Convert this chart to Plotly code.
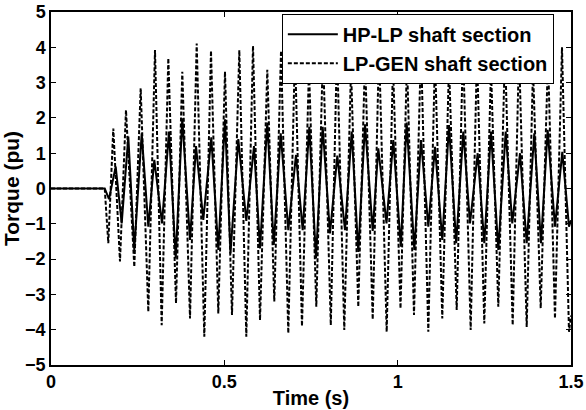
import plotly.graph_objects as go

# HP-LP shaft section: extrema (time s, torque pu)
hp_t = [0.0, 0.155, 0.1673, 0.1866, 0.2039, 0.223, 0.2403, 0.2616, 0.2807, 0.298,
        0.3202, 0.3404, 0.3597, 0.3787, 0.401, 0.4183, 0.4393, 0.4624, 0.4826, 0.5019,
        0.5178, 0.5403, 0.5634, 0.5856, 0.6029, 0.6239, 0.6427, 0.6626, 0.6845, 0.7067,
        0.726, 0.7451, 0.7644, 0.7837, 0.8048, 0.8259, 0.8481, 0.8674, 0.8864, 0.9058,
        0.928, 0.9441, 0.9678, 0.9874, 1.009, 1.026, 1.048, 1.0673, 1.0884, 1.1077,
        1.1287, 1.1481, 1.1688, 1.1893, 1.2087, 1.2308, 1.2499, 1.2692, 1.2903, 1.3116,
        1.3306, 1.3529, 1.3722, 1.3941, 1.4134, 1.4327, 1.4538, 1.4749, 1.4942, 1.5]
hp_v = [0.0, 0.0, -0.3, 0.62, -0.99, 1.47, -1.74, 1.56, -1.08, 0.81,
        -0.99, 1.61, -1.98, 1.99, -1.46, 1.2, -0.89, 1.45, -1.74, 1.96,
        -1.84, 1.4, -0.92, 1.2, -1.7, 1.87, -1.6, 1.56, -1.18, 0.95,
        -1.18, 1.75, -1.98, 1.75, -1.27, 0.93, -1.18, 1.61, -1.8, 1.82,
        -1.2, 1.14, -0.99, 1.37, -1.65, 1.87, -1.74, 1.37, -1.08, 1.18,
        -1.46, 1.8, -1.55, 1.61, -0.99, 1.0, -1.55, 1.61, -1.74, 1.61,
        -0.99, 1.0, -1.55, 1.56, -1.55, 1.66, -1.08, 1.04, -1.08, -0.9]

# LP-GEN shaft section: extrema (time s, torque pu)
lg_t = [0.0, 0.155, 0.1653, 0.1797, 0.199, 0.2163, 0.2403, 0.2587, 0.2807, 0.3,
        0.3193, 0.3384, 0.3606, 0.3787, 0.401, 0.4203, 0.4422, 0.4615, 0.4826, 0.5019,
        0.5221, 0.5432, 0.5634, 0.5827, 0.6029, 0.6239, 0.6441, 0.6635, 0.6845, 0.7038,
        0.724, 0.7442, 0.7653, 0.7846, 0.8071, 0.825, 0.846, 0.8654, 0.8864, 0.9058,
        0.928, 0.9462, 0.9683, 0.9865, 1.0082, 1.0269, 1.0471, 1.0673, 1.0884, 1.1077,
        1.1287, 1.1481, 1.1703, 1.1885, 1.2106, 1.2288, 1.2499, 1.2692, 1.2903, 1.3096,
        1.3318, 1.35, 1.3722, 1.3904, 1.4126, 1.4337, 1.4538, 1.474, 1.4942, 1.5]
lg_v = [0.0, 0.0, -1.55, 1.70, -2.07, 2.22, -2.22, 2.84, -3.49, 3.92,
        -3.87, 3.69, -3.25, 3.31, -3.68, 4.11, -4.20, 3.90, -3.54, 3.31,
        -3.58, 3.92, -4.20, 4.04, -3.73, 3.36, -3.2, 3.9, -4.10, 3.9,
        -3.9, 3.4, -3.35, 3.9, -3.87, 4.0, -4.01, 3.4, -3.35, 3.7,
        -3.71, 4.0, -4.06, 3.5, -3.4, 3.6, -3.58, 4.0, -4.06, 3.7,
        -3.68, 3.5, -3.44, 4.0, -4.01, 3.8, -3.82, 3.4, -3.35, 3.9,
        -3.87, 3.9, -3.92, 3.4, -3.39, 3.7, -3.68, 4.0, -4.06, -3.6]

x_ticks = [0, 0.5, 1, 1.5]
x_labels = ["0", "0.5", "1", "1.5"]
y_ticks = [-5, -4, -3, -2, -1, 0, 1, 2, 3, 4, 5]

fig = go.Figure()
fig.add_trace(go.Scatter(x=hp_t, y=hp_v, mode="lines", name="HP-LP shaft section",
                         line=dict(color="black", width=2)))
fig.add_trace(go.Scatter(x=lg_t, y=lg_v, mode="lines", name="LP-GEN shaft section",
                         line=dict(color="black", width=2, dash="4px,2px")))

font = dict(family="Arial, Liberation Sans", size=18, color="black", weight="bold")
xtitle_font = dict(family="Arial, Liberation Sans", size=20, color="black", weight="bold")
ytitle_font = dict(family="Arial, Liberation Sans", size=21, color="black", weight="bold")
legend_font = dict(family="Arial, Liberation Sans", size=20, color="black", weight="bold")
axis_common = dict(showline=True, linecolor="black", linewidth=1.5, mirror="allticks",
                   ticks="inside", ticklen=5, tickwidth=1, tickcolor="black",
                   showgrid=False, zeroline=False, tickfont=font, automargin=False,
                   ticklabeloverflow="allow")

fig.update_layout(
    width=586, height=410,
    margin=dict(l=51, r=15, t=12, b=45),
    paper_bgcolor="white", plot_bgcolor="white",
    showlegend=True,
    legend=dict(x=0.967, y=0.995, xanchor="right", yanchor="top",
                bgcolor="white", bordercolor="black", borderwidth=1,
                font=legend_font, tracegroupgap=0, itemwidth=50),
    xaxis=dict(range=[0, 1.5], tickvals=x_ticks, ticktext=x_labels,
               title=dict(text="Time (s)", font=xtitle_font, standoff=0), **axis_common),
    yaxis=dict(range=[-5, 5], tickvals=y_ticks,
               title=dict(text="Torque (pu)", font=ytitle_font, standoff=2), **axis_common),
)

# remove the default 8px page margin so the figure fills the window exactly
fig.write_html("out.html", config={"displayModeBar": False},
               post_script="document.body.style.margin='0';document.body.style.overflow='hidden';")
